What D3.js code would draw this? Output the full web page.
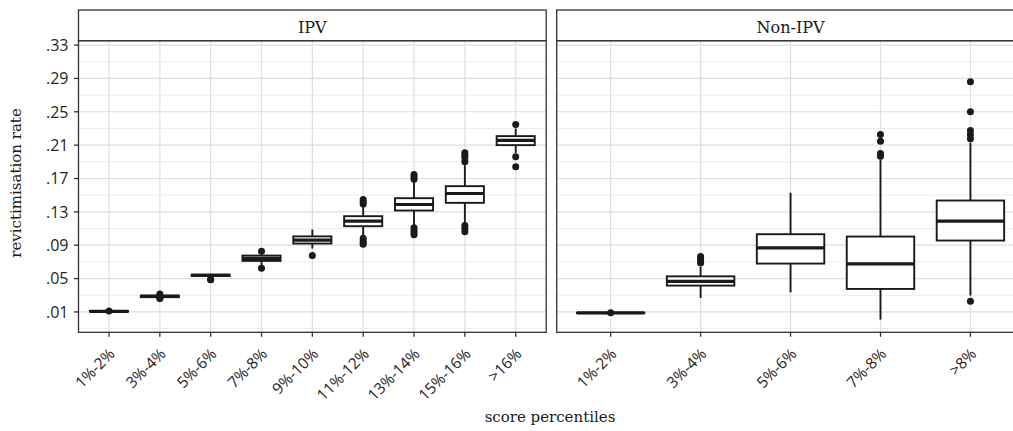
<!DOCTYPE html>
<html><head><meta charset="utf-8">
<script src="https://cdn.jsdelivr.net/npm/d3@7"></script>
<style>html,body{margin:0;padding:0;background:#fff;} svg{display:block}</style>
</head><body><svg id="c" width="1013" height="431"></svg>
<script>
// ---------- data ----------
const panelTitles = ["IPV", "Non-IPV"];

const ipvCategories = ["1%-2%","3%-4%","5%-6%","7%-8%","9%-10%","11%-12%","13%-14%","15%-16%",">16%"];
const ipvLow    = [0.0102, 0.0272, 0.0512, 0.0660, 0.0860, 0.1000, 0.1128, 0.1160, 0.2005];
const ipvQ1     = [0.0104, 0.0277, 0.0531, 0.0712, 0.0920, 0.1128, 0.1316, 0.1408, 0.2100];
const ipvMedian = [0.0108, 0.0287, 0.0539, 0.0743, 0.0962, 0.1188, 0.1388, 0.1520, 0.2156];
const ipvQ3     = [0.0112, 0.0297, 0.0547, 0.0776, 0.1006, 0.1248, 0.1464, 0.1608, 0.2208];
const ipvHigh   = [0.0114, 0.0304, 0.0558, 0.0800, 0.1088, 0.1368, 0.1668, 0.1860, 0.2300];
const ipvOutliers = [
  [0.0112],
  [0.0316, 0.0266, 0.0262],
  [0.0490, 0.0486],
  [0.0828, 0.0623],
  [0.0776],
  [0.1448, 0.1420, 0.1395, 0.0985, 0.0955, 0.0930, 0.0912],
  [0.1748, 0.1720, 0.1690, 0.1110, 0.1080, 0.1050, 0.1025],
  [0.2010, 0.1980, 0.1950, 0.1900, 0.1136, 0.1100, 0.1060],
  [0.2348, 0.1960, 0.1840]
];

const nonCategories = ["1%-2%","3%-4%","5%-6%","7%-8%",">8%"];
const nonLow    = [0.0084, 0.0268, 0.0335, 0.0008, 0.0296];
const nonQ1     = [0.0086, 0.0416, 0.0680, 0.0376, 0.0956];
const nonMedian = [0.0088, 0.0467, 0.0868, 0.0676, 0.1188];
const nonQ3     = [0.0090, 0.0527, 0.1032, 0.1004, 0.1436];
const nonHigh   = [0.0092, 0.0640, 0.1529, 0.1928, 0.2129];
const nonOutliers = [
  [0.0090],
  [0.0765, 0.0740, 0.0710, 0.0688],
  [],
  [0.2228, 0.2148, 0.2000, 0.1968],
  [0.2861, 0.2500, 0.2276, 0.2228, 0.2177, 0.0227]
];

const yTicks = [0.01, 0.05, 0.09, 0.13, 0.17, 0.21, 0.25, 0.29, 0.33];
const yMinorTicks = [-0.01, 0.03, 0.07, 0.11, 0.15, 0.19, 0.23, 0.27, 0.31];
const yDomain = [-0.0144, 0.3352];

const xTitle = "score percentiles";
const yTitle = "revictimisation rate";

// ---------- layout ----------
const svg = d3.select("#c");
svg.append("rect").attr("width",1013).attr("height",431).attr("fill","#fff");

const serif = "'DejaVu Serif', 'Liberation Serif', serif";
const sans = "'Open Sans', 'Noto Sans', 'DejaVu Sans', sans-serif";
const stripTop = 10, panelTop = 40.7, panelBottom = 332.3;
const panels = [
  {title: panelTitles[0], x0: 78.5, x1: 546.2, cats: ipvCategories, low: ipvLow, q1: ipvQ1, med: ipvMedian, q3: ipvQ3, high: ipvHigh, out: ipvOutliers},
  {title: panelTitles[1], x0: 556.7, x1: 1024.4, cats: nonCategories, low: nonLow, q1: nonQ1, med: nonMedian, q3: nonQ3, high: nonHigh, out: nonOutliers}
];

const y = d3.scaleLinear().domain(yDomain).range([panelBottom, panelTop]);
const fmt = v => d3.format(".2f")(v).replace(/^0/, "").replace(/^-0/, "-");

panels.forEach((p, pi) => {
  const x = d3.scalePoint().domain(p.cats).range([p.x0, p.x1]).padding(0.6);
  const bw = x.step() * 0.75;
  const g = svg.append("g");

  g.append("rect").attr("x", p.x0).attr("y", panelTop).attr("width", p.x1 - p.x0)
    .attr("height", panelBottom - panelTop).attr("fill", "#fff");

  g.selectAll(".ymin").data(yMinorTicks).join("line")
    .attr("x1", p.x0).attr("x2", p.x1).attr("y1", d => y(d)).attr("y2", d => y(d))
    .attr("stroke", "#ebebeb").attr("stroke-width", 0.9);
  g.selectAll(".ymaj").data(yTicks).join("line")
    .attr("x1", p.x0).attr("x2", p.x1).attr("y1", d => y(d)).attr("y2", d => y(d))
    .attr("stroke", "#dedede").attr("stroke-width", 1.2);
  g.selectAll(".xmaj").data(p.cats).join("line")
    .attr("x1", d => x(d)).attr("x2", d => x(d)).attr("y1", panelTop).attr("y2", panelBottom)
    .attr("stroke", "#dedede").attr("stroke-width", 1.2);

  const boxes = p.cats.map((c, i) => ({c, low: p.low[i], q1: p.q1[i], med: p.med[i], q3: p.q3[i], high: p.high[i], out: p.out[i]}));
  const bg = g.selectAll(".box").data(boxes).join("g");
  bg.append("line").attr("x1", d => x(d.c)).attr("x2", d => x(d.c))
    .attr("y1", d => y(d.q3)).attr("y2", d => y(d.high)).attr("stroke", "#1a1a1a").attr("stroke-width", 1.9);
  bg.append("line").attr("x1", d => x(d.c)).attr("x2", d => x(d.c))
    .attr("y1", d => y(d.q1)).attr("y2", d => y(d.low)).attr("stroke", "#1a1a1a").attr("stroke-width", 1.9);
  bg.append("rect").attr("x", d => x(d.c) - bw / 2).attr("width", bw)
    .attr("y", d => y(d.q3)).attr("height", d => Math.max(0.01, y(d.q1) - y(d.q3)))
    .attr("fill", "#fff").attr("stroke", "#1a1a1a").attr("stroke-width", 1.9);
  bg.append("line").attr("x1", d => x(d.c) - bw / 2).attr("x2", d => x(d.c) + bw / 2)
    .attr("y1", d => y(d.med)).attr("y2", d => y(d.med)).attr("stroke", "#1a1a1a").attr("stroke-width", 3.2);
  bg.each(function(d) {
    d3.select(this).selectAll("circle").data(d.out).join("circle")
      .attr("cx", x(d.c)).attr("cy", v => y(v)).attr("r", 3.5).attr("fill", "#1a1a1a");
  });

  g.append("rect").attr("x", p.x0).attr("y", panelTop).attr("width", p.x1 - p.x0)
    .attr("height", panelBottom - panelTop).attr("fill", "none").attr("stroke", "#333").attr("stroke-width", 1.3);
  g.append("rect").attr("x", p.x0).attr("y", stripTop).attr("width", p.x1 - p.x0)
    .attr("height", panelTop - stripTop).attr("fill", "#fff").attr("stroke", "#333").attr("stroke-width", 1.3);
  g.append("text").attr("x", (p.x0 + p.x1) / 2).attr("y", 32.5).attr("text-anchor", "middle")
    .attr("font-family", serif).attr("font-size", 16).attr("fill", "#1a1a1a").text(p.title);

  g.selectAll(".xt").data(p.cats).join("line")
    .attr("x1", d => x(d)).attr("x2", d => x(d)).attr("y1", panelBottom).attr("y2", panelBottom + 4.5)
    .attr("stroke", "#333").attr("stroke-width", 1.3);
  g.selectAll(".xl").data(p.cats).join("text")
    .attr("transform", d => `translate(${x(d) - 1},${347}) rotate(-45)`)
    .attr("text-anchor", "end").attr("dy", "0.72em")
    .attr("font-family", sans).attr("font-size", 15.5).attr("fill", "#262626").text(d => d);

  if (pi === 0) {
    g.selectAll(".yt").data(yTicks).join("line")
      .attr("x1", p.x0 - 4.5).attr("x2", p.x0).attr("y1", d => y(d)).attr("y2", d => y(d))
      .attr("stroke", "#333").attr("stroke-width", 1.3);
    g.selectAll(".yl").data(yTicks).join("text")
      .attr("x", p.x0 - 10).attr("y", d => y(d)).attr("dy", "0.36em").attr("text-anchor", "end")
      .attr("font-family", sans).attr("font-size", 16).attr("fill", "#262626").text(fmt);
  }
});

svg.append("text").attr("x", 550).attr("y", 422).attr("text-anchor", "middle")
  .attr("font-family", serif).attr("font-size", 15).attr("fill", "#1a1a1a").text(xTitle);
svg.append("text").attr("transform", "translate(21,183) rotate(-90)").attr("text-anchor", "middle")
  .attr("font-family", serif).attr("font-size", 15).attr("fill", "#1a1a1a").text(yTitle);
</script></body></html>
